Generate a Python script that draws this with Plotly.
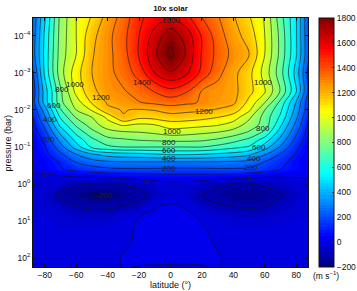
import plotly.graph_objects as go

latitude = [-87.5, -80, -70, -60, -50, -40, -30, -20, -10, 0, 10, 20, 30, 40, 50, 60, 70, 80, 87.5]
pressure_exp = [-4.5, -4, -3.5, -3, -2.5, -2.2, -2, -1.8, -1.6, -1.4, -1.2, -1, -0.8, -0.6, -0.4, -0.2,
                0, 0.3, 0.6, 0.9, 1.2, 1.6, 2, 2.25]
wind = [
    [230, 490, 830, 1000, 1110, 1240, 1340, 1480, 1550, 1610, 1530, 1400, 1310, 1210, 1110, 990, 740, 510, 220],
    [250, 520, 840, 1000, 1170, 1270, 1370, 1500, 1640, 1760, 1660, 1490, 1350, 1240, 1160, 1000, 770, 510, 220],
    [260, 530, 850, 1000, 1190, 1270, 1360, 1510, 1680, 1830, 1690, 1490, 1370, 1270, 1205, 1000, 770, 510, 230],
    [190, 520, 860, 1060, 1200, 1270, 1340, 1440, 1600, 1690, 1620, 1470, 1330, 1230, 1130, 960, 740, 460, 180],
    [150, 450, 780, 1030, 1170, 1260, 1290, 1340, 1405, 1465, 1410, 1290, 1260, 1230, 1130, 1010, 790, 510, 200],
    [170, 440, 770, 950, 1110, 1210, 1250, 1295, 1320, 1340, 1320, 1290, 1250, 1220, 1070, 900, 670, 390, 150],
    [130, 350, 690, 900, 1010, 1180, 1205, 1190, 1205, 1240, 1225, 1215, 1190, 1150, 1020, 800, 620, 360, 140],
    [100, 290, 610, 810, 900, 1020, 1195, 1120, 1130, 1155, 1150, 1130, 1100, 1050, 920, 760, 580, 320, 110],
    [70, 230, 530, 720, 850, 960, 1015, 985, 1000, 1055, 1045, 1030, 1010, 960, 860, 760, 520, 270, 90],
    [50, 170, 430, 630, 770, 860, 890, 900, 920, 950, 940, 920, 900, 860, 790, 680, 450, 220, 70],
    [35, 120, 340, 540, 680, 770, 790, 810, 820, 830, 830, 820, 790, 740, 680, 560, 370, 170, 50],
    [25, 90, 260, 450, 620, 680, 700, 700, 700, 700, 700, 700, 670, 630, 590, 450, 290, 120, 40],
    [15, 70, 180, 300, 390, 440, 460, 470, 490, 510, 510, 500, 480, 460, 420, 310, 190, 90, 30],
    [8, 40, 110, 210, 260, 290, 300, 300, 300, 300, 300, 300, 300, 290, 270, 200, 130, 60, 20],
    [20, 30, 90, 130, 160, 180, 190, 190, 190, 180, 180, 185, 190, 190, 180, 150, 100, 55, 30],
    [-20, -20, -10, 5, 15, 25, 35, 45, 50, 65, 65, 60, 55, 45, 25, 10, 5, 5, 5],
    [-30, -35, -50, -85, -105, -110, -95, -70, -40, -25, -30, -50, -80, -100, -100, -85, -60, -35, -25],
    [-35, -50, -120, -165, -205, -205, -170, -125, -75, -35, -45, -105, -130, -170, -180, -155, -110, -60, -35],
    [-30, -40, -65, -100, -115, -115, -100, -80, -5, 10, -5, -60, -90, -105, -110, -105, -70, -40, -30],
    [-20, -25, -35, -50, -60, -55, -30, 0, 10, 15, 10, -5, -30, -50, -55, -50, -35, -25, -20],
    [-15, -20, -25, -25, -25, -20, -10, 5, 12, 15, 12, 3, -10, -20, -25, -25, -20, -15, -15],
    [-15, -15, -15, -15, -15, -15, -5, 5, 10, 15, 10, 8, -3, -10, -15, -15, -15, -15, -15],
    [-12, -12, -12, -12, -12, -8, 2, 5, 8, 8, 6, 3, 3, -8, -12, -12, -12, -12, -12],
    [-15, -15, -15, -15, -15, -8, 1, -1, -3, -4, -3, -1, 1, -8, -15, -15, -15, -15, -15],
]
label_text = ["1000", "800", "600", "400", "200", "1200", "1400", "1600", "1000", "800", "600", "400", "200",
              "0", "0", "-200", "1200", "1000", "800", "600", "400", "200", "0"]
label_lat = [-61, -69, -74, -77, -78, -44, -18, 0, 1, -1, -1, -1, -1, -80, -15, -42, 21, 59, 59, 56, 53, 51, 50]
label_exp = [-2.68, -2.55, -2.13, -1.73, -1.2, -2.35, -2.73, -4.42, -1.43, -1.11, -0.9, -0.7, -0.43,
             -0.27, -0.08, 0.3, -1.95, -2.75, -1.5, -1, -0.7, -0.45, -0.16]
pressure_ticks = [1e-4, 1e-3, 1e-2, 1e-1, 1, 10, 100]
pressure_labels = ["10<sup>−4</sup>", "10<sup>−3</sup>", "10<sup>−2</sup>", "10<sup>−1</sup>",
                   "10<sup>0</sup>", "10<sup>1</sup>", "10<sup>2</sup>"]

pressure = [10 ** e for e in pressure_exp]
jet = [[0, "#00007f"], [0.125, "#0000ff"], [0.375, "#00ffff"], [0.625, "#ffff00"], [0.875, "#ff0000"], [1, "#7f0000"]]
font = "Liberation Sans, Arial, sans-serif"

fig = go.Figure()
fig.add_trace(go.Contour(
    x=latitude, y=pressure, z=wind, zmin=-200, zmax=1800, zauto=False, colorscale=jet,
    autocontour=False, contours=dict(coloring="fill", start=-200, end=1800, size=25, showlines=False),
    line=dict(width=0),
    colorbar=dict(x=1.04, xanchor="left", xpad=0, y=0, yanchor="bottom", len=1, ypad=0, thickness=15,
                  outlinecolor="#111", outlinewidth=1, tickmode="array",
                  tickvals=list(range(-200, 1801, 200)), ticks="inside", ticklen=2, tickcolor="#333",
                  tickfont=dict(family=font, size=8.5, color="#111")),
    hoverinfo="skip",
))
fig.add_trace(go.Contour(
    x=latitude, y=pressure, z=wind, showscale=False, autocontour=False,
    contours=dict(coloring="none", start=-200, end=1800, size=100, showlines=True),
    line=dict(color="#111111", width=0.6, smoothing=1), hoverinfo="skip",
))
for t, la, e in zip(label_text, label_lat, label_exp):
    fig.add_annotation(x=la, y=e, text=t, showarrow=False, font=dict(family=font, size=8, color="#222"))
title_font = dict(family=font, size=9, color="#111")
anchors = dict(xref="paper", yref="paper", xanchor="center", yanchor="middle", showarrow=False)
fig.add_annotation(x=1.067, y=-0.036, text="(m s<sup>−1</sup>)", font=dict(family=font, size=8.5, color="#111"), **anchors)
fig.add_annotation(x=0.5, y=-0.072, text="latitude (°)", font=title_font, **anchors)
fig.add_annotation(x=-0.091, y=0.5, text="pressure (bar)", textangle=-90, font=title_font, **anchors)

axis = dict(showline=True, linecolor="#111", linewidth=1, mirror="allticks", ticks="inside", ticklen=3,
            tickcolor="#111", showgrid=False, zeroline=False, automargin=False,
            tickfont=dict(family=font, size=8.5, color="#111"))
fig.update_xaxes(range=[-87.5, 87.5], tickvals=list(range(-80, 81, 20)), **axis)
fig.update_yaxes(type="log", range=[2.243, -4.486], tickvals=pressure_ticks, ticktext=pressure_labels, **axis)
fig.update_layout(
    width=357, height=291, margin=dict(l=33, r=49, t=18, b=24, autoexpand=False),
    paper_bgcolor="white", plot_bgcolor="white", showlegend=False,
    title=dict(text="<b>10x solar</b>", x=170.5 / 357, xanchor="center", y=0.972, yanchor="middle",
               font=dict(family=font, size=8, color="#111")),
)
fig.write_html("out.html", config=dict(displayModeBar=False),
               post_script="document.body.style.margin='0';document.body.style.overflow='hidden';")
